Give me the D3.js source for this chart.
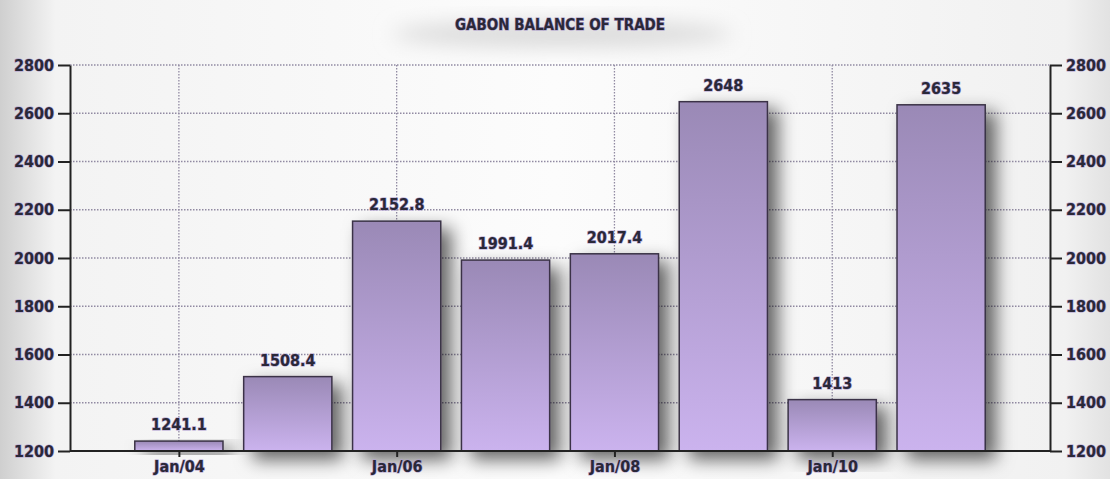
<!DOCTYPE html>
<html>
<head>
<meta charset="utf-8">
<script src="https://cdn.jsdelivr.net/npm/d3@7"></script>
<style>
  body { margin: 0; background: #fff; }
  svg text { font-family: "DejaVu Sans Condensed", "DejaVu Sans", sans-serif; font-weight: bold; }
</style>
</head>
<body>
<svg id="chart" width="1110" height="479"></svg>
<script>
var categories = ["Jan/04", "Jan/05", "Jan/06", "Jan/07", "Jan/08", "Jan/09", "Jan/10", "Jan/11"];
var values = [1241.1, 1508.4, 2152.8, 1991.4, 2017.4, 2648, 1413, 2635];
var valueLabels = ["1241.1", "1508.4", "2152.8", "1991.4", "2017.4", "2648", "1413", "2635"];
var tickLabels = ["Jan/04", "Jan/06", "Jan/08", "Jan/10"];
var yTicks = [1200, 1400, 1600, 1800, 2000, 2200, 2400, 2600, 2800];

var svg = d3.select("#chart"),
    width = +svg.attr("width"),
    height = +svg.attr("height");

var mLeft = 70, mRight = 1050, mTop = 65, mBottom = 451;
var slot = (mRight - mLeft) / 9;

var defs = svg.append("defs");

// page background, grey at the edges
var bg = defs.append("linearGradient").attr("id", "bg");
bg.append("stop").attr("offset", "0%").attr("stop-color", "#cfcfcf");
bg.append("stop").attr("offset", "5%").attr("stop-color", "#f3f3f3");
bg.append("stop").attr("offset", "50%").attr("stop-color", "#fcfcfc");
bg.append("stop").attr("offset", "96%").attr("stop-color", "#f1f1f1");
bg.append("stop").attr("offset", "100%").attr("stop-color", "#e2e2e2");

var barGrad = defs.append("linearGradient").attr("id", "barGrad")
    .attr("x1", 0).attr("y1", 0).attr("x2", 0).attr("y2", 1);
barGrad.append("stop").attr("offset", "0%").attr("stop-color", "#9a89b6");
barGrad.append("stop").attr("offset", "100%").attr("stop-color", "#cbb3ee");

var shadow = defs.append("filter").attr("id", "shadow")
    .attr("x", "-20%").attr("y", "-20%").attr("width", "170%").attr("height", "160%");
shadow.append("feDropShadow").attr("dx", 10).attr("dy", 8).attr("stdDeviation", 9)
    .attr("flood-color", "#000").attr("flood-opacity", 0.6);

var blur = defs.append("filter").attr("id", "blur")
    .attr("x", "-20%").attr("y", "-50%").attr("width", "140%").attr("height", "200%");
blur.append("feGaussianBlur").attr("stdDeviation", 10);

svg.append("rect").attr("width", width).attr("height", height).attr("fill", "url(#bg)");

// title with soft shadow
svg.append("ellipse").attr("cx", 562).attr("cy", 34).attr("rx", 170).attr("ry", 14)
    .attr("fill", "#dcdcdc").attr("filter", "url(#blur)");
svg.append("text")
    .attr("x", 560).attr("y", 30)
    .attr("text-anchor", "middle")
    .attr("font-size", 15)
    .attr("fill", "#2a2838")
    .attr("stroke", "#a898c8").attr("stroke-width", 1.2).attr("paint-order", "stroke")
    .text("GABON BALANCE OF TRADE");

var y = d3.scaleLinear().domain([1200, 2800]).range([mBottom, mTop]);
var x = d3.scaleBand().domain(categories)
    .range([mLeft + slot / 2, mRight - slot / 2])
    .paddingInner(0.19).paddingOuter(0.095);

// grid
var grid = svg.append("g").attr("stroke", "#918aa2").attr("stroke-width", 1.3)
    .attr("stroke-dasharray", "1.5,1.5");
grid.selectAll(".hg").data(yTicks.slice(1)).enter().append("line")
    .attr("x1", mLeft).attr("x2", mRight)
    .attr("y1", function(d) { return y(d); }).attr("y2", function(d) { return y(d); });
grid.selectAll(".vg").data(tickLabels).enter().append("line")
    .attr("x1", function(d) { return x(d) + x.bandwidth() / 2; })
    .attr("x2", function(d) { return x(d) + x.bandwidth() / 2; })
    .attr("y1", mTop).attr("y2", mBottom);

// bars
var bars = svg.append("g");
bars.selectAll("rect").data(values).enter().append("rect")
    .attr("x", function(d, i) { return x(categories[i]); })
    .attr("width", x.bandwidth())
    .attr("y", function(d) { return y(d); })
    .attr("height", function(d) { return mBottom - y(d); })
    .attr("fill", "url(#barGrad)")
    .attr("stroke", "#3a3346").attr("stroke-width", 1.5)
    .attr("filter", "url(#shadow)");

// value labels
svg.append("g").selectAll("text").data(values).enter().append("text")
    .attr("x", function(d, i) { return x(categories[i]) + x.bandwidth() / 2; })
    .attr("y", function(d) { return y(d) - 11; })
    .attr("text-anchor", "middle")
    .attr("font-size", 16)
    .attr("fill", "#2a2838")
    .attr("stroke", "#b0a0d0").attr("stroke-width", 1.2).attr("paint-order", "stroke")
    .text(function(d, i) { return valueLabels[i]; });

// axes
function styleAxis(g) {
  g.select(".domain").attr("stroke", "#222").attr("stroke-width", 2);
  g.selectAll(".tick line").attr("stroke", "#222").attr("stroke-width", 2);
  g.selectAll(".tick text")
    .attr("font-size", 16)
    .attr("fill", "#2a2838")
    .attr("stroke", "#b0a0d0").attr("stroke-width", 1.2).attr("paint-order", "stroke");
}

svg.append("g").attr("transform", "translate(" + mLeft + ",0)")
    .call(d3.axisLeft(y).tickValues(yTicks).tickFormat(d3.format("d")).tickSize(12).tickSizeOuter(0).tickPadding(4))
    .call(styleAxis);
svg.append("g").attr("transform", "translate(" + mRight + ",0)")
    .call(d3.axisRight(y).tickValues(yTicks).tickFormat(d3.format("d")).tickSize(12).tickSizeOuter(0).tickPadding(4))
    .call(styleAxis);

var xAxisScale = d3.scalePoint().domain(categories)
    .range([x(categories[0]) + x.bandwidth() / 2, x(categories[7]) + x.bandwidth() / 2]);
svg.append("g").attr("transform", "translate(0," + mBottom + ")")
    .call(d3.axisBottom(xAxisScale).tickValues(tickLabels).tickSize(6).tickSizeOuter(0).tickPadding(4))
    .call(styleAxis)
    .select(".domain").attr("d", "M" + mLeft + ",0H" + mRight);
</script>
</body>
</html>
